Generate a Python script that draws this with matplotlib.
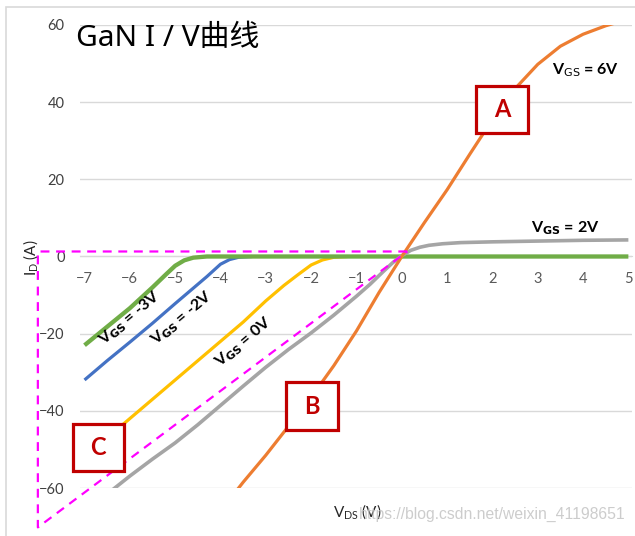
import numpy as np
import matplotlib.pyplot as plt
from matplotlib.patches import Rectangle

plt.rcParams['font.family'] = ['Lato', 'DejaVu Sans']

# ---- data ----
x_m3 = [-7, -6.5, -6, -5.5, -5.2, -5.0, -4.8, -4.6, -4.3, 5]
y_m3 = [-23, -18.2, -13.4, -8, -4.6, -2.4, -1.0, -0.3, 0, 0]

x_m2 = [-7, -6.5, -6, -5.5, -5, -4.6, -4.3, -4.0, -3.8, -3.6, -3.3]
y_m2 = [-32, -27, -22.2, -17.3, -12.2, -8.2, -5.2, -2.0, -0.8, -0.2, 0]

x_0 = [-7, -6.5, -6, -5.5, -5, -4.5, -4, -3.5, -3, -2.6, -2.3, -2.0, -1.75, -1.5, -1.2]
y_0 = [-52, -47, -42, -37, -32, -27, -22, -17, -11.5, -7.5, -4.8, -2.2, -0.9, -0.2, 0]

x_2 = [-6.6, -6.0, -5.5, -5.0, -4.5, -4.0, -3.5, -3.0, -2.5, -2.0, -1.5, -1.0, -0.7,
       -0.4, -0.2, 0, 0.2, 0.4, 0.6, 0.9, 1.3, 2.0, 3.0, 4.0, 5.0]
y_2 = [-62.5, -56.9, -52.5, -48.3, -43.6, -38.6, -33.6, -28.7, -24.1, -19.8, -15.2, -10.3, -7.2,
       -3.8, -1.6, 0.2, 1.6, 2.4, 2.9, 3.3, 3.6, 3.8, 4.0, 4.2, 4.3]

x_6 = [-3.8, -3.5, -3.0, -2.5, -2.0, -1.5, -1.0, -0.5, 0, 0.5, 1.0, 1.5, 2.0, 2.5, 3.0,
       3.5, 4.0, 4.5, 5.0]
y_6 = [-63, -58.5, -51.5, -44, -36.5, -28.3, -19.3, -9.3, 0, 8.8, 17.3, 26.5, 35.5, 43.5,
       49.8, 54.5, 57.6, 59.8, 61.5]

# dashed magenta triangle
tri_x = [0.12, -8.03, -8.03, 0.12]
tri_y = [1.3, 1.3, -70.2, 1.3]

x_ticks = list(range(-7, 6))
y_ticks = [-60, -40, -20, 0, 20, 40, 60]

fig = plt.figure(figsize=(6.35, 5.36), dpi=100)
ax = fig.add_axes([80/635, 1-488/536, 552/635, 463/536])

# chart border
fig.patches.append(Rectangle((6/635, -0.05), 1.0, 1.05-7/536, transform=fig.transFigure,
                             fill=False, edgecolor='#d9d9d9', lw=1.2))

for yt in y_ticks:
    ax.axhline(yt, color='#d9d9d9', lw=1, zorder=0)

ax.plot(x_m2, y_m2, color='#4472C4', lw=2.3, solid_capstyle='butt')
ax.plot(x_0, y_0, color='#FFC000', lw=2.3, solid_capstyle='butt')
ax.plot(x_m3, y_m3, color='#70AD47', lw=3.1, solid_capstyle='butt')
ax.plot(x_2, y_2, color='#A5A5A5', lw=2.6, solid_capstyle='butt')
ax.plot(x_6, y_6, color='#ED7D31', lw=2.3, solid_capstyle='butt')

ax.plot(tri_x, tri_y, color='#FF00FF', lw=1.6, ls=(0, (4, 3)), clip_on=False, zorder=5)

ax.set_xlim(-7.1, 5.08)
ax.set_ylim(-60, 60)
ax.set_xticks(x_ticks)
ax.set_yticks(y_ticks)
for s in ['top', 'right', 'left']:
    ax.spines[s].set_visible(False)
ax.spines['bottom'].set_position(('data', 0))
ax.spines['bottom'].set_color('#d9d9d9')
ax.spines['bottom'].set_zorder(0)
ax.tick_params(axis='x', length=0, pad=11, labelsize=10.5, labelcolor='#595959')
ax.tick_params(axis='y', length=0, pad=11, labelsize=10.5, labelcolor='#404040')

# curve labels
lab_kw = dict(fontsize=11.5, fontweight='bold', color='black', ha='center', va='center',
              rotation_mode='anchor')
ax.text(-6.0, -16.1, r'V$_{\mathbf{GS}}$ = -3V', rotation=40, **lab_kw)
ax.text(-4.85, -16.1, r'V$_{\mathbf{GS}}$ = -2V', rotation=40, **lab_kw)
ax.text(-3.5, -22.3, r'V$_{\mathbf{GS}}$ = 0V', rotation=40, **lab_kw)
ax.text(3.61, 7.3, r'V$_{\mathbf{GS}}$ = 2V', **lab_kw)
ax.text(4.05, 48.2, r'V$_{\mathrm{GS}}$ = 6V', **lab_kw)

# red boxes
box_w, box_h = 1.13, 12.4
for lbl, cx, cy in [('A', 2.21, 38.1), ('B', -1.98, -38.8), ('C', -6.70, -49.5)]:
    ax.add_patch(Rectangle((cx - box_w/2, cy - box_h/2), box_w, box_h, facecolor='white',
                           edgecolor='#C00000', lw=2.3, clip_on=False, zorder=6))
    ax.text(cx, cy, lbl, color='#C00000', fontsize=17, fontweight='bold',
            ha='center', va='center', zorder=7)

fig.text(76/635, 1-39/536, 'GaN I / V曲线', fontsize=21.5, ha='left', va='center',
         family=['Noto Sans', 'Noto Sans CJK SC'])
fig.text(31/635, 1-258/536, r'I$_{\mathregular{D}}$ (A)', rotation=90, fontsize=11,
         ha='center', va='center', color='#262626')
fig.text(357/635, 1-512/536, r'V$_{\mathregular{DS}}$ (V)', fontsize=11,
         ha='center', va='center', color='#262626')
fig.text(625/635, 1-514/536, 'https://blog.csdn.net/weixin_41198651', fontsize=11.3,
         ha='right', va='center', color='#c4c4c4', alpha=0.85,
         family=['Liberation Sans', 'DejaVu Sans'])

fig.savefig('out.png', dpi=100)
